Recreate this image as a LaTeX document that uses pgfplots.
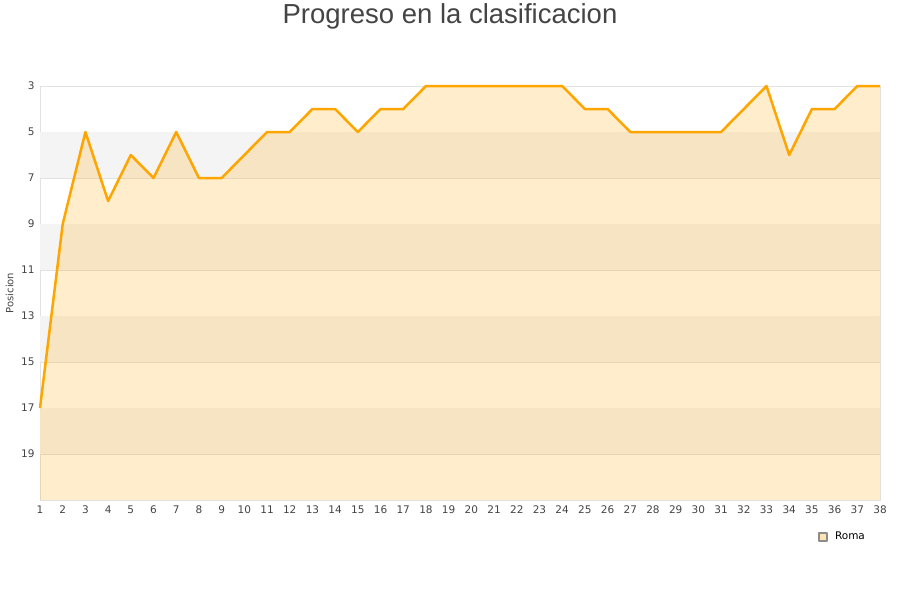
\documentclass[border=0pt]{standalone}
\usepackage{pgfplots}
\pgfplotsset{compat=1.18}
\usepackage{fontspec}
\setmainfont{DejaVu Sans}
\newfontfamily\titlefont{Liberation Sans}
\definecolor{txt}{HTML}{444444}
\definecolor{band}{HTML}{F4F4F4}
\definecolor{gridc}{HTML}{E2E2E2}
\definecolor{lineor}{HTML}{FFA500}
\begin{document}
\begin{tikzpicture}
\path[use as bounding box] (0pt,0pt) rectangle (900pt,600pt);
\node[font=\titlefont\fontsize{27.5}{27.5}\selectfont, text=txt] at (450pt,584pt) {Progreso en la clasificacion};
\begin{axis}[
    at={(40pt,100pt)}, anchor=south west,
    width=840pt, height=414pt, scale only axis,
    xmin=1, xmax=38, ymin=3, ymax=21,
    y dir=reverse,
    xtick={1,...,38},
    ytick={3,5,...,19},
    tick style={draw=none},
    axis line style={draw=gridc},
    ymajorgrids, grid style={gridc, line width=0.8pt},
    tick label style={font=\fontsize{10.5}{11}\selectfont, text=txt},
    /pgf/number format/assume math mode=true,
    xticklabel style={yshift=-2pt},
    yticklabel style={xshift=-2pt},
    ylabel={Posicion},
    ylabel style={font=\fontsize{10}{10}\selectfont, text=txt, anchor=center,
        at={(axis description cs:-0.036,0.5)}},
    legend style={draw=none, fill=none, at={(axis description cs:0.955,-0.089)}, anchor=center,
        font=\fontsize{10.5}{11}\selectfont},
    legend image code/.code={
        \draw[fill=lineor!30, draw=gray!90] (0pt,-4pt) rectangle (8pt,4pt);
        \path (13pt,0pt);},
    clip=false,
]
% alternating background bands
\pgfplotsinvokeforeach{5,9,13,17}{
  \fill[band] (axis cs:1,#1) rectangle (axis cs:38,#1+2);
}
% filled area down to the bottom of the axis
\addplot[draw=none, fill=lineor, fill opacity=0.2, forget plot] coordinates {
 (1,17) (2,9) (3,5) (4,8) (5,6) (6,7) (7,5) (8,7) (9,7) (10,6)
 (11,5) (12,5) (13,4) (14,4) (15,5) (16,4) (17,4) (18,3) (19,3) (20,3)
 (21,3) (22,3) (23,3) (24,3) (25,4) (26,4) (27,5) (28,5) (29,5) (30,5)
 (31,5) (32,4) (33,3) (34,6) (35,4) (36,4) (37,3) (38,3) (38,21) (1,21)
} -- cycle;
\addplot[lineor, line width=2.5pt, line join=round] coordinates {
 (1,17) (2,9) (3,5) (4,8) (5,6) (6,7) (7,5) (8,7) (9,7) (10,6)
 (11,5) (12,5) (13,4) (14,4) (15,5) (16,4) (17,4) (18,3) (19,3) (20,3)
 (21,3) (22,3) (23,3) (24,3) (25,4) (26,4) (27,5) (28,5) (29,5) (30,5)
 (31,5) (32,4) (33,3) (34,6) (35,4) (36,4) (37,3) (38,3)
};
\addlegendentry{Roma}
\end{axis}
\end{tikzpicture}
\end{document}
